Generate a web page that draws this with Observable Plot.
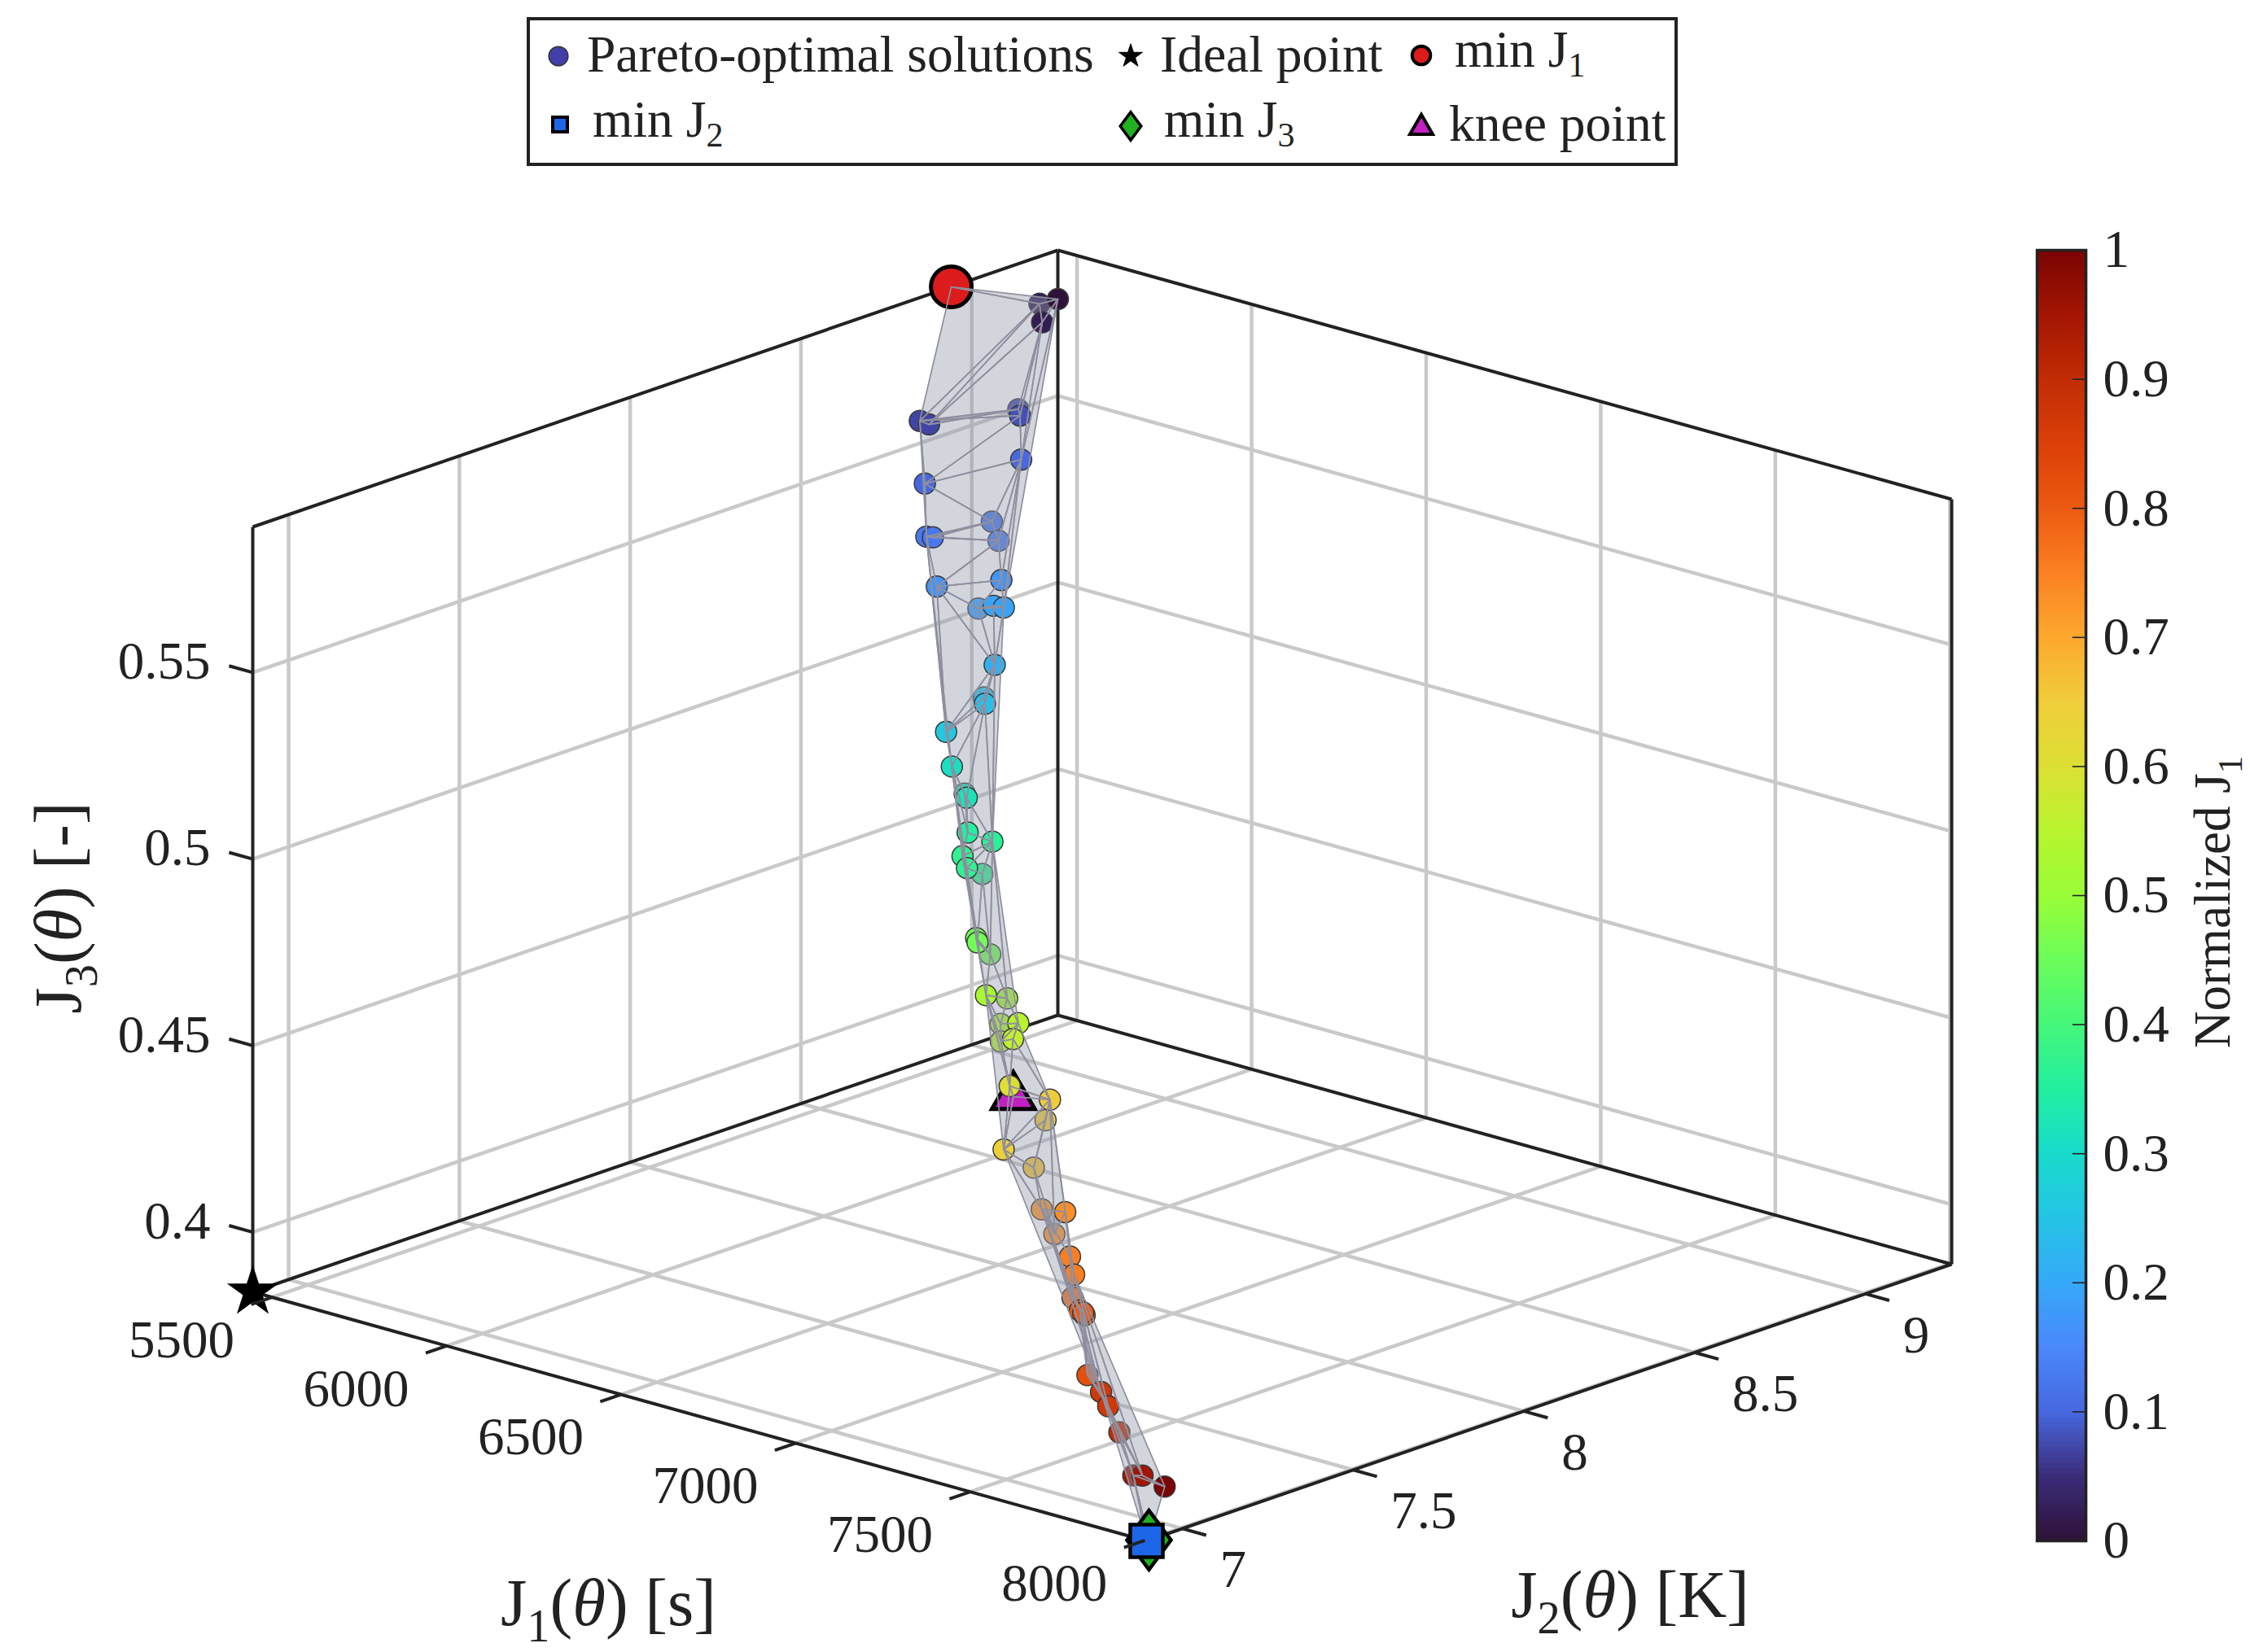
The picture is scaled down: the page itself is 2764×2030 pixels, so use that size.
<!DOCTYPE html>
<html>
<head>
<meta charset="utf-8">
<script src="https://cdn.jsdelivr.net/npm/d3@7"></script>
<script src="https://cdn.jsdelivr.net/npm/@observablehq/plot@0.6"></script>
<style>
html,body{margin:0;padding:0;background:#fff}
#page{position:relative;width:2764px;height:2030px;font-family:"Liberation Serif",serif;color:#222;overflow:hidden}
#page svg{position:absolute;left:0;top:0;font-family:"Liberation Serif",serif;background:transparent;overflow:visible}
#legend{position:absolute;left:647px;top:21px;width:1406px;height:175px;border:4px solid #222;background:#fff}
#legend .k{position:absolute;font-size:63.5px;line-height:1;white-space:nowrap}
#legend sub{font-size:42px;line-height:0;vertical-align:-12px}
#legend svg{position:absolute;overflow:visible}
</style>
</head>
<body>
<div id="page"></div>
<script>
// Axis limits and ticks
const J1Lim = [5445, 8005];
const J2Lim = [6.895, 9.252];
const J3Lim = [0.384, 0.589];
const J1Ticks = [5500, 6000, 6500, 7000, 7500, 8000];
const J2Ticks = [7, 7.5, 8, 8.5, 9];
const J3Ticks = [0.4, 0.45, 0.5, 0.55];
const barTicks = [0, 0.1, 0.2, 0.3, 0.4, 0.5, 0.6, 0.7, 0.8, 0.9, 1];

// Pareto-optimal solutions
const paretoJ1 = [5445,5496,5496,5624,5624,5637,5650,5701,5701,5753,5778,5765,5765,5881,5881,5919,5932,5932,5996,6060,6060,6111,6240,6265,6265,6342,6368,6393,6393,6393,6611,6611,6624,6778,6778,6855,6829,6855,6880,6983,7111,7111,7085,7137,7290,7316,7290,7367,7367,7419,7495,7495,7495,7547,7675,7675,7752,7880,7880,8005];
const paretoJ2 = [9.252,9.146,9.154,8.665,8.692,8.940,8.932,8.883,8.601,8.744,8.738,8.540,8.559,8.641,8.452,8.535,8.566,8.596,8.504,8.407,8.410,8.244,8.129,8.141,8.147,8.071,8.117,8.004,8.017,8.062,7.821,7.825,7.849,7.679,7.741,7.695,7.670,7.644,7.654,7.539,7.526,7.513,7.417,7.452,7.319,7.361,7.356,7.323,7.335,7.277,7.221,7.235,7.231,7.190,7.099,7.120,7.074,6.984,7.011,6.948];
const paretoJ3 = [.5759,.5793,.5741,.5664,.5646,.5612,.5601,.5512,.5536,.5403,.5360,.5430,.5422,.5312,.5354,.5279,.5280,.5266,.5158,.5118,.5100,.5090,.5067,.4997,.4984,.4935,.4903,.4906,.4870,.4840,.4801,.4788,.4752,.4736,.4708,.4676,.4675,.4643,.4653,.4590,.4591,.4540,.4485,.4439,.4409,.4395,.4331,.4301,.4249,.4219,.4222,.4205,.4213,.4072,.4089,.4044,.4009,.3955,.3946,.3969];
// Solutions that lie behind the translucent surface in this view
const behindSurface = [1,5,9,10,15,19,23,29,32,34,36,37,41,43,44,46,49,53,56,57];

// Highlighted solutions [J1, J2, J3]
const idealPoint = [5445, 6.895, 0.384];
const minJ1 = [5445, 8.940, 0.589];
const minJ2 = [8005, 6.895, 0.384];
const minJ3 = [8005, 6.902, 0.384];
const kneePoint = [7008, 7.524, 0.4573];

// Colorbar stops
const colorStops = [0,.05,.1,.15,.2,.25,.3,.35,.4,.45,.5,.55,.6,.65,.7,.75,.8,.85,.9,.95,1];
const colorValues = ["#2e1238","#3b2c7a","#4768e0","#4a88fb","#35a9f8","#25c4e6","#18dbcb","#22efa0","#45f77a","#6bfd5a","#99fd37","#b8f42e","#dcdf34","#f0cd3a","#fca82e","#fb8022","#ec5a11","#db4008","#c22c05","#a31503","#7a0403"];

// Oblique view of the unit box: how far each normalised axis moves on the picture plane
const viewX = {j1: 1098/2087, j2: 989/2087};
const viewY = {j1: 306/1586, j2: 340/1586, j3: 940/1586};
const nrm = (v, lim) => (v - lim[0]) / (lim[1] - lim[0]);
const px = p => viewX.j1*nrm(p[0],J1Lim) + viewX.j2*nrm(p[1],J2Lim);
const py = p => viewY.j1*(1-nrm(p[0],J1Lim)) + viewY.j2*nrm(p[1],J2Lim) + viewY.j3*nrm(p[2],J3Lim);
const seg = (a,b) => ({a,b});

const pareto = paretoJ1.map((v,i) => [v, paretoJ2[i], paretoJ3[i]]);
const paretoBehind = pareto.filter((d,i) => behindSurface.includes(i));
const paretoFront = pareto.filter((d,i) => !behindSurface.includes(i));
const meshPts = [...pareto, minJ1, kneePoint, minJ2, minJ3];

// Surface: Delaunay triangulation over (J1, J2), without the long hull slivers
const maxSpanJ1 = 650;
const del = d3.Delaunay.from(meshPts, d => d[0], d => d[1]);
const tris = [];
for (let i = 0, t = 0; i < del.triangles.length; i += 3, t++) {
  const [a,b,c] = [del.triangles[i], del.triangles[i+1], del.triangles[i+2]];
  const js = [a,b,c].map(k => meshPts[k][0]);
  if (d3.max(js) - d3.min(js) > maxSpanJ1) continue;
  for (const k of [a,b,c,a]) tris.push({t, p: meshPts[k]});
}

// Grid
const [a0,a1] = J1Lim, [b0,b1] = J2Lim, [c0,c1] = J3Lim;
const grid = [
  ...J1Ticks.flatMap(v => [seg([v,b0,c0],[v,b1,c0]), seg([v,b1,c0],[v,b1,c1])]),
  ...J2Ticks.flatMap(v => [seg([a0,v,c0],[a1,v,c0]), seg([a0,v,c0],[a0,v,c1])]),
  ...J3Ticks.flatMap(v => [seg([a0,b0,v],[a0,b1,v]), seg([a0,b1,v],[a1,b1,v])])
];
const box = [
  seg([a0,b0,c0],[a1,b0,c0]), seg([a1,b0,c0],[a1,b1,c0]), seg([a0,b0,c0],[a0,b1,c0]), seg([a0,b1,c0],[a1,b1,c0]),
  seg([a0,b0,c0],[a0,b0,c1]), seg([a0,b1,c0],[a0,b1,c1]), seg([a1,b1,c0],[a1,b1,c1]),
  seg([a0,b0,c1],[a0,b1,c1]), seg([a0,b1,c1],[a1,b1,c1])
];
const tickLenJ2 = 0.061, tickLenJ1 = 68;
const ticks = [
  ...J1Ticks.map(v => seg([v,b0,c0],[v,b0-tickLenJ2,c0])),
  ...J2Ticks.map(v => seg([a1,v,c0],[a1+tickLenJ1,v,c0])),
  ...J3Ticks.map(v => seg([a0,b0,v],[a0-tickLenJ1,b0,v]))
];
const link = (data, o) => Plot.link(data, {x1:d=>px(d.a), y1:d=>py(d.a), x2:d=>px(d.b), y2:d=>py(d.b), ...o});
const gridColor = "#c9c9c9", ink = "#222", tickFont = 65, titleFont = 83;
const diamondTall = {draw(ctx, size){const y=Math.sqrt(size/(2*.743)), x=y*.743; ctx.moveTo(0,-y); ctx.lineTo(x,0); ctx.lineTo(0,y); ctx.lineTo(-x,0); ctx.closePath();}};
const special = (p, symbol, r, fill, sw) => Plot.dot([p], {x:px, y:py, symbol, r, fill, stroke:"#000", strokeWidth:sw});
const solutionDots = data => Plot.dot(data,{x:px, y:py, r:13, fill:d=>nrm(d[0],J1Lim), stroke:"#3a3a3a", strokeWidth:1.5});

const main = Plot.plot({
  width:2764, height:2030, margin:0,
  x:{domain:[0,1], range:[310,2397], axis:null},
  y:{domain:[0,1], range:[1893,307], axis:null},
  color:{type:"linear", domain:colorStops, range:colorValues},
  style:{background:"transparent"},
  marks:[
    link(grid,{stroke:gridColor, strokeWidth:4.5}),
    link(box,{stroke:ink, strokeWidth:4}),
    solutionDots(paretoBehind),
    Plot.line(tris,{x:d=>px(d.p), y:d=>py(d.p), z:"t", fill:"#969bab", fillOpacity:.42, stroke:"none"}),
    special(minJ1,"circle",25,"#dc1c1c",5),
    special(kneePoint,"triangle",19.5,"#c31fc3",5),
    solutionDots(paretoFront),
    Plot.line(tris,{x:d=>px(d.p), y:d=>py(d.p), z:"t", stroke:"#8f8f9f", strokeWidth:1.7, strokeLinejoin:"round"}),
    special(minJ3,diamondTall,25,"#20b020",4.5),
    special(minJ2,"square",22.6,"#1e66e8",4.5),
    special(idealPoint,"star",18,"#000",2),
    link(ticks,{stroke:ink, strokeWidth:4}),
    Plot.text(J1Ticks,{x:v=>px([v,b0,c0]), y:v=>py([v,b0,c0]), text:String, dx:-111, dy:53, fontSize:tickFont, fill:ink, lineAnchor:"middle"}),
    Plot.text(J2Ticks,{x:v=>px([a1,v,c0]), y:v=>py([a1,v,c0]), text:String, dx:46, dy:51, textAnchor:"start", fontSize:tickFont, fill:ink, lineAnchor:"middle"}),
    Plot.text(J3Ticks,{x:v=>px([a0,b0,v]), y:v=>py([a0,b0,v]), text:String, dx:-52, dy:-13, textAnchor:"end", fontSize:tickFont, fill:ink, lineAnchor:"middle"}),
    Plot.text(["J_1({θ}) [s]"],{frameAnchor:"top-left", dx:747, dy:1970, textAnchor:"middle", text:d=>d, fontSize:titleFont, fill:ink, lineAnchor:"middle"}),
    Plot.text(["J_2({θ}) [K]"],{frameAnchor:"top-left", dx:2002, dy:1960, textAnchor:"middle", text:d=>d, fontSize:titleFont, fill:ink, lineAnchor:"middle"}),
    Plot.text(["J_3({θ}) [-]"],{frameAnchor:"top-left", dx:72, dy:1115, textAnchor:"middle", rotate:-90, text:d=>d, fontSize:titleFont, fill:ink, lineAnchor:"middle"})
  ]
});

// Colorbar
const barCells = d3.range(0,1,0.004);
const bar = Plot.plot({
  width:262, height:2030, marginLeft:0, marginRight:202, marginTop:307, marginBottom:137,
  x:{domain:[0,1], axis:null},
  y:{domain:[0,1], axis:null},
  color:{type:"linear", domain:colorStops, range:colorValues},
  style:{background:"transparent"},
  marks:[
    Plot.rect(barCells,{x1:0, x2:1, y1:d=>d, y2:d=>d+0.0045, fill:d=>d+0.002, inset:0}),
    Plot.ruleY(barTicks.slice(1,-1),{x1:.73, x2:1, stroke:"#222", strokeWidth:1.6}),
    Plot.frame({stroke:"#222", strokeWidth:3.5}),
    Plot.text(barTicks,{x:1, y:d=>d, text:String, textAnchor:"start", dx:21, fontSize:tickFont, fill:ink, lineAnchor:"middle"}),
    Plot.text(["Normalized J_1"],{x:3.6, y:.495, text:d=>d, rotate:-90, fontSize:63, fill:ink, lineAnchor:"middle"})
  ]
});

const page = document.getElementById("page");
page.append(main);
bar.style.left = "2502px";
page.append(bar);

// Subscripts and italics inside text marks
function rich(svg){
  svg.querySelectorAll("text").forEach(el => {
    const s = el.textContent;
    if (!/_|\{/.test(s)) return;
    const fs = parseFloat(getComputedStyle(el).fontSize);
    const parts = s.split(/(_\d|\{[^}]*\})/).filter(x => x);
    el.textContent = "";
    let back = 0;
    for (const p of parts) {
      const t = document.createElementNS("http://www.w3.org/2000/svg","tspan");
      if (back) { t.setAttribute("dy", -back); back = 0; }
      if (p[0] === "_") { t.textContent = p[1]; t.setAttribute("font-size", fs*.68); back = fs*.24; t.setAttribute("dy", back); }
      else if (p[0] === "{") { t.textContent = p.slice(1,-1); t.setAttribute("font-style","italic"); }
      else t.textContent = p;
      el.append(t);
    }
  });
}
rich(main); rich(bar);

// Legend
const legendKeys = [
  {text:"Pareto-optimal solutions", tx:70, ty:10, mx:35, my:44, sym:d3.symbolCircle, size:440, fill:"#4040a8", stroke:"#333", sw:1.5},
  {text:"Ideal point", tx:774, ty:10, mx:738, my:44, sym:d3.symbolStar, size:260, fill:"#000", stroke:"#000", sw:1},
  {text:"min J<sub>1</sub>", tx:1136, ty:4, mx:1095, my:43, sym:d3.symbolCircle, size:400, fill:"#dc1c1c", stroke:"#000", sw:4},
  {text:"min J<sub>2</sub>", tx:77, ty:90, mx:37, my:128, sym:d3.symbolSquare, size:324, fill:"#1e66e8", stroke:"#000", sw:4},
  {text:"min J<sub>3</sub>", tx:779, ty:90, mx:738, my:130, sym:diamondTall, size:440, fill:"#20b020", stroke:"#000", sw:3.5},
  {text:"knee point", tx:1129, ty:95, mx:1095, my:132, sym:d3.symbolTriangle, size:340, fill:"#c31fc3", stroke:"#000", sw:4}
];
const lg = document.createElement("div"); lg.id = "legend";
for (const k of legendKeys) {
  const s = document.createElement("div"); s.className = "k"; s.innerHTML = k.text;
  s.style.left = k.tx + "px"; s.style.top = k.ty + "px"; lg.append(s);
  const g = d3.create("svg").attr("width",1).attr("height",1).style("left",k.mx+"px").style("top",k.my+"px");
  g.append("path").attr("d", d3.symbol(k.sym, k.size)()).attr("fill",k.fill).attr("stroke",k.stroke).attr("stroke-width",k.sw);
  lg.append(g.node());
}
page.append(lg);
</script>
</body>
</html>
